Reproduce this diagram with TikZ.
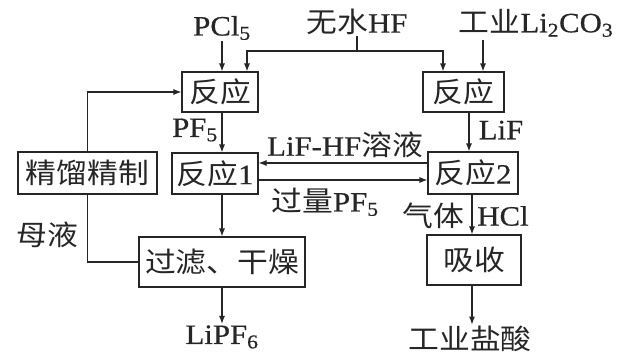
\documentclass[tikz,border=0pt]{standalone}
\usepackage{fontspec}
\setmainfont{Liberation Serif}[FakeStretch=1.1,FakeBold=0.6]
\newfontfamily\cjk{Noto Sans CJK SC}[Scale=1.0,FakeStretch=1.1]
\usetikzlibrary{arrows.meta,calc}
\definecolor{ink}{gray}{0.15}
\begin{document}
\begin{tikzpicture}[x=1pt,y=-1pt,line width=1.1pt,
  every node/.style={text=ink,font=\fontsize{28}{32}\selectfont},
  box/.style={draw=ink,inner sep=0pt,align=center},
  lab/.style={inner sep=1pt},
  arr/.style={draw=ink,-{Latex[length=8pt,width=6pt]}},
  ln/.style={draw=ink}]
\useasboundingbox[fill=white] (0,0) rectangle (624,356);
% boxes
\node[box,minimum width=76pt,minimum height=40pt] (r0) at (220,92) {\cjk 反应};
\node[box,minimum width=81pt,minimum height=40pt] (r3) at (463.5,92) {\cjk 反应};
\node[box,minimum width=86pt,minimum height=41pt] (r1) at (215,173.5) {{\cjk 反应}1};
\node[box,minimum width=139pt,minimum height=42pt] (jl) at (87.5,173) {\cjk 精馏精制};
\node[box,minimum width=90pt,minimum height=42pt] (r2) at (473,173) {{\cjk 反应}2};
\node[box,minimum width=166pt,minimum height=50pt] (gl) at (222,262) {\cjk 过滤、干燥};
\node[box,minimum width=94pt,minimum height=50pt] (xs) at (474,260) {\cjk 吸收};
% labels
\node[lab] (pcl) at (222,28) {PCl\textsubscript{5}};
\node[lab] (hf) at (357,22) {{\cjk 无水}HF};
\node[lab] (li) at (536,23) {{\cjk 工业}Li\textsubscript{2}CO\textsubscript{3}};
\node[lab] (pf) at (195,130) {PF\textsubscript{5}};
\node[lab] (lif) at (501,130) {LiF};
\node[lab] (lifhf) at (345,145) {LiF-HF{\cjk 溶液}};
\node[lab] (glpf) at (325,202) {{\cjk 过量}PF\textsubscript{5}};
\node[lab] (my) at (47,235) {\cjk 母液};
\node[lab] (qt) at (433,216) {\cjk 气体};
\node[lab] (hcl) at (503,216) {HCl};
\node[lab] (lipf) at (222,337) {LiPF\textsubscript{6}};
\node[lab] (yan) at (470,339) {\cjk 工业盐酸};
% connectors
\draw[arr] (pcl.south) -- (pcl.south |- r0.north);
\coordinate (hfj) at (357,51);
\draw[ln] (hf.south) -- (hfj);
\draw[arr] (hfj) -| ($(r0.north)+(27,0)$);
\draw[arr] (hfj) -| ($(r3.north)+(-20.5,0)$);
\coordinate (lia) at (483,40);
\draw[arr] (lia) -- (lia |- r3.north);
\coordinate (a1) at ($(r0.south)+(2,0)$);
\draw[arr] (a1) -- (a1 |- r1.north);
\coordinate (a2) at ($(r3.south)+(5.5,0)$);
\draw[arr] (a2) -- (a2 |- r2.north);
\draw[arr] ($(r2.west)+(0,-10)$) -- ($(r1.east)+(0,-10.5)$);
\draw[arr] ($(r1.east)+(0,6.5)$) -- ($(r2.west)+(0,7)$);
\draw[arr] (jl.north) |- (r0.west);
\draw[ln] (jl.south) |- (gl.west);
\coordinate (a3) at ($(r1.south)+(7,0)$);
\draw[arr] (a3) -- (a3 |- gl.north);
\draw[arr] (gl.south) -- (lipf.north);
\coordinate (a4) at ($(r2.south)+(-1,0)$);
\draw[arr] (a4) -- (a4 |- xs.north);
\coordinate (a5) at ($(xs.south)+(-2,0)$);
\draw[arr] (a5) -- (a5 |- yan.north);
\end{tikzpicture}
\end{document}
